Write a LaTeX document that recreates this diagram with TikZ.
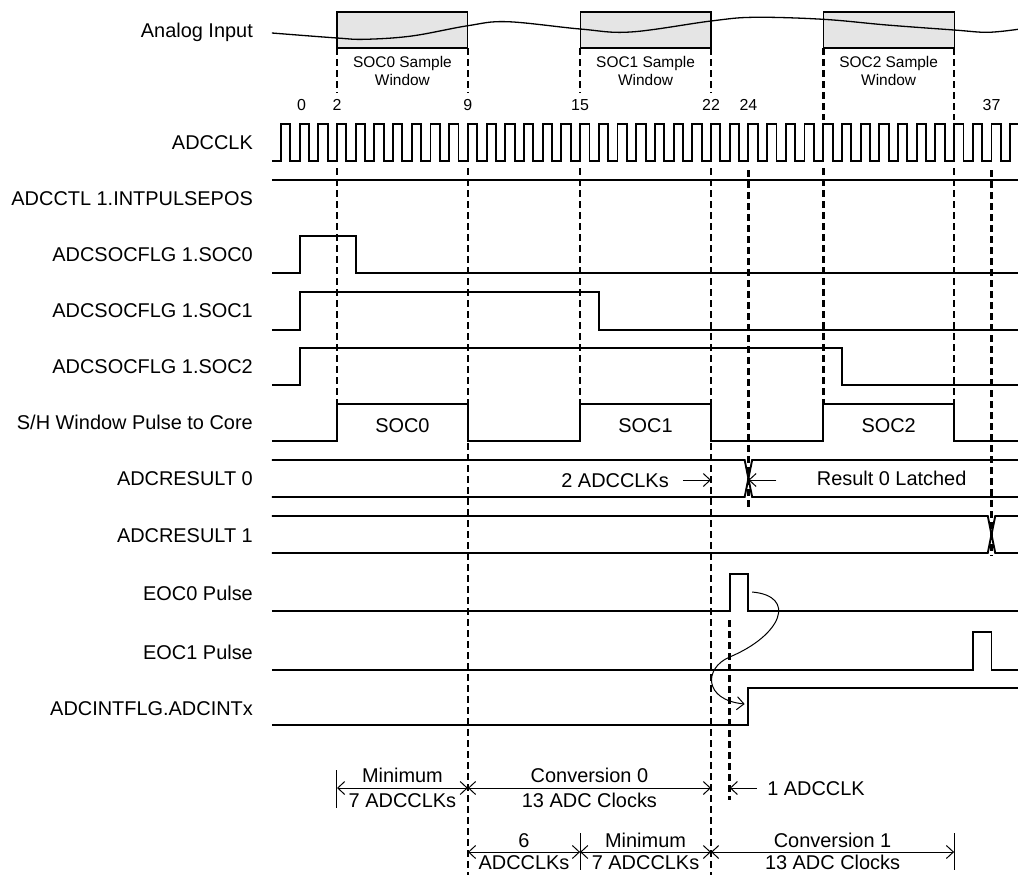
\documentclass[tikz,border=0pt]{standalone}
\usepackage{fontspec}
\setmainfont{Liberation Sans}
\usetikzlibrary{arrows.meta}

\begin{document}
\begin{tikzpicture}[x=18.7bp,y=-1bp]
  \tikzset{signal/.style={line width=1.9bp}}
  \tikzset{guide/.style={line width=2.6bp,dash pattern=on 7bp off 4bp}}
  \tikzset{dim/.style={line width=1bp,>={Straight Barb[length=7bp,width=13bp]}}}
  \tikzset{tick/.style={line width=1bp}}
  \tikzset{tag/.style={inner sep=0pt,text height=14.3bp,text depth=0pt,font=\fontsize{20}{24}\selectfont}}
  \tikzset{rowname/.style={tag,anchor=east}}
  \tikzset{small/.style={inner sep=0pt,align=center,font=\fontsize{15.5}{18}\selectfont}}
  \useasboundingbox (-16.021,0) rectangle (38.417,875);

  \node[rowname] (nameAnalog) at (-2.49,30) {Analog Input};
  \node[rowname] (nameClk) at (-2.49,142) {ADCCLK};
  \node[rowname] (namePulsePos) at (-2.49,198) {ADCCTL 1.INTPULSEPOS};
  \node[rowname] (nameSocA) at (-2.49,254) {ADCSOCFLG 1.SOC0};
  \node[rowname] (nameSocB) at (-2.49,310) {ADCSOCFLG 1.SOC1};
  \node[rowname] (nameSocC) at (-2.49,366) {ADCSOCFLG 1.SOC2};
  \node[rowname] (nameWindow) at (-2.49,422) {S/H Window Pulse to Core};
  \node[rowname] (nameResA) at (-2.49,478) {ADCRESULT 0};
  \node[rowname] (nameResB) at (-2.49,535) {ADCRESULT 1};
  \node[rowname] (nameEocA) at (-2.49,593) {EOC0 Pulse};
  \node[rowname] (nameEocB) at (-2.49,652) {EOC1 Pulse};
  \node[rowname] (nameInt) at (-2.49,708) {ADCINTFLG.ADCINTx};

  \foreach \a/\b in {2/9,15/22,28/35}
    \draw[line width=1.2bp,fill=gray!20] (\a,12) rectangle (\b,48);
  \draw[line width=1.3bp] plot[smooth,tension=0.6] coordinates {(-1.48,33) (2,38) (3.5,39.3) (6,36) (9,25.7) (11.1,21.7) (15,29) (17.7,32) (22,21) (24.3,17.3) (28,19.3) (31.4,25) (35,30) (36.8,32.3) (38.417,29.3)};
  \node[small] (winA) at (5.5,71) {SOC0 Sample\\Window};
  \node[small] (winB) at (18.5,71) {SOC1 Sample\\Window};
  \node[small] (winC) at (31.5,71) {SOC2 Sample\\Window};
  \foreach \t/\s in {0.1/0,2/2,9/9,15/15,22/22,24/24,37/37}
    \node[small,font=\fontsize{16}{18}\selectfont] (num\s) at (\t,105) {\s};

  \foreach \t/\a/\b in {2/48/93,9/48/93,15/48/93,22/48/93,28/48/120,35/48/120,
      2/168/404,9/168/875,15/168/404,22/168/875,28/168/404,35/168/404,24/170/508,37/170/556,23/620/800}
    \draw[guide] (\t,\a) -- (\t,\b);

  \draw[signal] (-1.48,161) foreach \n in {-1,...,37}{ -- (\n,161) -- (\n,124) -- (\n+0.5,124) -- (\n+0.5,161)} -- (38,161) -- (38,124) -- (38.417,124);
  \draw[signal] (-1.48,180) -- (38.417,180);
  \draw[signal] (-1.48,273) -- (0,273) -- (0,236) -- (3,236) -- (3,273) -- (38.417,273);
  \draw[signal] (-1.48,330) -- (0,330) -- (0,292) -- (16,292) -- (16,330) -- (38.417,330);
  \draw[signal] (-1.48,385) -- (0,385) -- (0,348) -- (29,348) -- (29,385) -- (38.417,385);
  \draw[signal] (-1.48,441) -- (2,441) -- (2,404) -- (9,404) -- (9,441) -- (15,441) -- (15,404) -- (22,404) -- (22,441) -- (28,441) -- (28,404) -- (35,404) -- (35,441) -- (38.417,441);
  \node[tag] (shA) at (5.5,425) {SOC0};
  \node[tag] (shB) at (18.5,425) {SOC1};
  \node[tag] (shC) at (31.5,425) {SOC2};

  \draw[signal] (-1.48,460) -- (23.8,460) -- (24.2,497) -- (38.417,497);
  \draw[signal] (-1.48,497) -- (23.8,497) -- (24.2,460) -- (38.417,460);
  \draw[signal] (-1.48,516) -- (36.8,516) -- (37.2,553) -- (38.417,553);
  \draw[signal] (-1.48,553) -- (36.8,553) -- (37.2,516) -- (38.417,516);
  \node[tag] (twoClk) at (16.87,480) {2 ADCCLKs};
  \node[tag] (latched) at (31.66,478) {Result 0 Latched};
  \coordinate (twoFrom) at (20.5,480);
  \coordinate (twoTo) at (22,480);
  \coordinate (latFrom) at (25.5,480);
  \coordinate (latTo) at (24,480);
  \draw[dim,->] (twoFrom) -- (twoTo);
  \draw[dim,->] (latFrom) -- (latTo);

  \draw[signal] (-1.48,611) -- (23,611) -- (23,574) -- (24,574) -- (24,611) -- (38.417,611);
  \draw[signal] (-1.48,670) -- (36,670) -- (36,632) -- (37,632) -- (37,670) -- (38.417,670);
  \draw[signal] (-1.48,725) -- (24,725) -- (24,688) -- (38.417,688);
  \coordinate (eocTail) at (24.2,592);
  \coordinate (eocMid) at (23,657);
  \coordinate (intHead) at (23.8,704);
  \draw[dim,->] (eocTail) .. controls (26.6,596) and (25.8,635) .. (eocMid) .. controls (21.6,668) and (21.6,700) .. (intHead);

  \coordinate (minAStart) at (2,788);
  \coordinate (convAStart) at (9,788);
  \coordinate (convAEnd) at (22,788);
  \draw[tick] (2,770) -- (2,808);
  \draw[dim,<->] (minAStart) -- (convAStart);
  \draw[dim,<->] (convAStart) -- (convAEnd);
  \node[tag] (minA) at (5.5,775) {Minimum};
  \node[tag] (sevenA) at (5.5,800) {7 ADCCLKs};
  \node[tag] (convA) at (15.5,775) {Conversion 0};
  \node[tag] (clocksA) at (15.5,800) {13 ADC Clocks};
  \coordinate (oneFrom) at (24.45,788);
  \coordinate (oneTo) at (23,788);
  \draw[dim,->] (oneFrom) -- (oneTo);
  \node[tag,anchor=west] (oneClk) at (25,788) {1 ADCCLK};

  \coordinate (sixStart) at (9,852);
  \coordinate (minBStart) at (15,852);
  \coordinate (convBStart) at (22,852);
  \coordinate (convBEnd) at (35,852);
  \draw[tick] (15,833) -- (15,870);
  \draw[tick] (35,833) -- (35,870);
  \draw[dim,<->] (sixStart) -- (minBStart);
  \draw[dim,<->] (minBStart) -- (convBStart);
  \draw[dim,<->] (convBStart) -- (convBEnd);
  \node[tag] (six) at (12,840) {6};
  \node[tag] (sixClk) at (12,862) {ADCCLKs};
  \node[tag] (minB) at (18.5,840) {Minimum};
  \node[tag] (sevenB) at (18.5,862) {7 ADCCLKs};
  \node[tag] (convB) at (28.5,840) {Conversion 1};
  \node[tag] (clocksB) at (28.5,862) {13 ADC Clocks};
\end{tikzpicture}
\end{document}
